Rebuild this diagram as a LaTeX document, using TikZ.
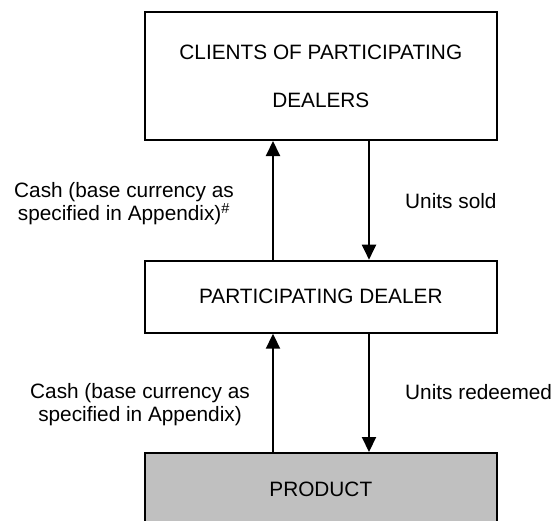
\documentclass[tikz,border=0pt]{standalone}
\usepackage{fontspec}
\setmainfont{Liberation Sans}
\usetikzlibrary{arrows.meta}
\definecolor{prodgray}{RGB}{192,192,192}
\tikzset{
  every node/.style={font=\fontsize{20.8}{23.5}\selectfont, inner sep=0pt},
  box/.style={draw=black, line width=2pt, minimum width=352pt, fill=white},
  flow/.style={line width=2pt, -{Triangle[length=15pt,width=14pt]}},
  lbl/.style={align=center}
}
\begin{document}
\begin{tikzpicture}[x=1pt,y=1pt]
\useasboundingbox (0,0) rectangle (559,-520);
\clip (0,0) rectangle (559,-520);
\node[box, minimum height=128pt, align=center, font=\fontsize{20.8}{48}\selectfont] (clients) at (320.8,-76) {CLIENTS OF PARTICIPATING\\DEALERS};
\node[box, minimum height=72pt] (dealer) at (320.8,-296.7) {PARTICIPATING DEALER};
\node[box, minimum height=72pt, fill=prodgray] (product) at (320.8,-489) {PRODUCT};
\coordinate (upx) at (273,0);
\coordinate (downx) at (369,0);
\draw[flow] (dealer.north -| upx) -- (clients.south -| upx);
\draw[flow] (clients.south -| downx) -- (dealer.north -| downx);
\draw[flow] (product.north -| upx) -- (dealer.south -| upx);
\draw[flow] (dealer.south -| downx) -- (product.north -| downx);
\node[lbl] (cash1) at (124,-203.5) {Cash (base currency as\\specified in Appendix)\textsuperscript{\#}};
\node[lbl] (cash2) at (140,-404.5) {Cash (base currency as\\specified in Appendix)};
\node[anchor=west] (sold) at (405,-200.7) {Units sold};
\node[anchor=west] (redeemed) at (405,-391.7) {Units redeemed};
\end{tikzpicture}
\end{document}
